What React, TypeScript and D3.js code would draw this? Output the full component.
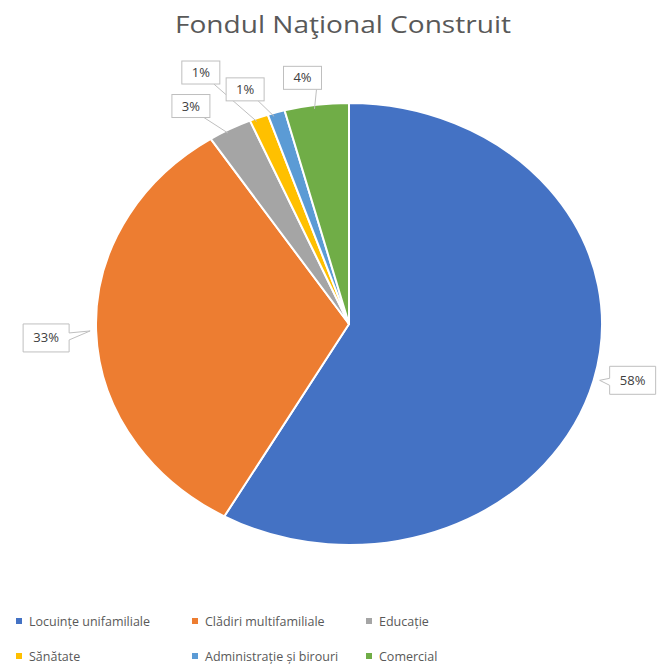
import { useRef, useEffect } from 'react';
import * as d3 from 'd3';

// data
const categories = [
  'Locuințe unifamiliale',
  'Clădiri multifamiliale',
  'Educație',
  'Sănătate',
  'Administrație și birouri',
  'Comercial',
];
const shares = [58.2, 32.6, 2.8, 1.2, 1.1, 4.1];
const colors = ['#4472C4', '#ED7D31', '#A5A5A5', '#FFC000', '#5B9BD5', '#70AD47'];
const title = 'Fondul Naţional Construit';

// label box offsets from the slice edge (layout only)
const labelOffsets: [number, number][] = [
  [39, 0],
  [-50, 7],
  [-39, -23],
  [-58, -45],
  [-31, -23],
  [-14, -27],
];
const legendRows = [[0, 1, 2], [3, 4, 5]];
const legendCols = [19, 195, 369];

export default function App() {
  const svgRef = useRef<SVGSVGElement | null>(null);

  useEffect(() => {
    if (!svgRef.current) return;
    const svg = d3.select(svgRef.current);
    svg.selectAll('*').remove();

    const width = 661;
    const cx = 349;
    const cy = 324;
    const rx = 253;
    const ry = 221;
    const font = "'Open Sans', 'Noto Sans', sans-serif";

    svg.append('rect').attr('width', width).attr('height', 666).attr('fill', '#fff');

    // title
    svg.append('text')
      .attr('x', 343)
      .attr('y', 33)
      .attr('text-anchor', 'middle')
      .attr('textLength', 336)
      .attr('lengthAdjust', 'spacingAndGlyphs')
      .style('font-family', font)
      .style('font-size', '23px')
      .attr('fill', '#595959')
      .text(title);

    const pie = d3.pie<number>().sort(null).value(d => d);
    const arcs = pie(shares);
    const arc = d3.arc<d3.PieArcDatum<number>>().innerRadius(0).outerRadius(ry);

    const g = svg.append('g')
      .attr('transform', `translate(${cx},${cy}) scale(${rx / ry},1)`);

    g.selectAll('path')
      .data(arcs)
      .enter()
      .append('path')
      .attr('d', arc)
      .attr('fill', (_, i) => colors[i])
      .attr('stroke', '#fff')
      .attr('stroke-width', 2)
      .attr('stroke-linejoin', 'round')
      .attr('vector-effect', 'non-scaling-stroke');

    // data callouts
    arcs.forEach((a, i) => {
      const mid = (a.startAngle + a.endAngle) / 2;
      const ax = cx + rx * Math.sin(mid);
      const ay = cy - ry * Math.cos(mid);
      const [ox, oy] = labelOffsets[i];
      const bx = ax + ox;
      const by = ay + oy;
      const label = `${Math.round(shares[i])}%`;
      const big = shares[i] > 10;
      const w = big ? 46 : 38;
      const h = big ? 28 : 23;

      const lg = svg.append('g');
      if (big) {
        // box with pointer toward slice
        const x0 = bx - w / 2;
        const x1 = bx + w / 2;
        const y0 = by - h / 2;
        const y1 = by + h / 2;
        let d: string;
        if (ox > 0) {
          d = `M${x0},${y0}H${x1}V${y1}H${x0}V${by + 5}L${ax + 6},${ay}L${x0},${by - 2}Z`;
        } else {
          d = `M${x0},${y0}H${x1}V${by - 5}L${ax - 6},${ay}L${x1},${by + 2}V${y1}H${x0}Z`;
        }
        lg.append('path')
          .attr('d', d)
          .attr('fill', '#fff')
          .attr('stroke', '#BFBFBF')
          .attr('stroke-width', 1);
      } else {
        // leader line then box
        const ex = Math.max(bx - w / 2, Math.min(bx + w / 2, ax));
        const ey = by + h / 2;
        lg.append('line')
          .attr('x1', ex - (ex === bx + w / 2 ? 6 : 0))
          .attr('y1', ey)
          .attr('x2', ax - 2)
          .attr('y2', ay + 4)
          .attr('stroke', '#BFBFBF')
          .attr('stroke-width', 1);
        lg.append('rect')
          .attr('x', bx - w / 2)
          .attr('y', by - h / 2)
          .attr('width', w)
          .attr('height', h)
          .attr('fill', '#fff')
          .attr('stroke', '#BFBFBF')
          .attr('stroke-width', 1);
      }
      lg.append('text')
        .attr('x', bx)
        .attr('y', by + 4.5)
        .attr('text-anchor', 'middle')
        .style('font-family', font)
        .style('font-size', '13px')
        .attr('fill', '#404040')
        .text(label);
    });

    // legend
    legendRows.forEach((row, r) => {
      row.forEach((idx, c) => {
        const x = legendCols[c];
        const y = [626, 661][r];
        svg.append('rect')
          .attr('x', x - 3)
          .attr('y', y - 8)
          .attr('width', 6)
          .attr('height', 6)
          .attr('fill', colors[idx]);
        svg.append('text')
          .attr('x', x + 10)
          .attr('y', y)
          .style('font-family', font)
          .style('font-size', '12.5px')
          .attr('fill', '#595959')
          .text(categories[idx]);
      });
    });
  }, []);

  return (
    <svg
      ref={svgRef}
      width={661}
      height={666}
      style={{ position: 'absolute', left: 0, top: 0, display: 'block' }}
    />
  );
}
